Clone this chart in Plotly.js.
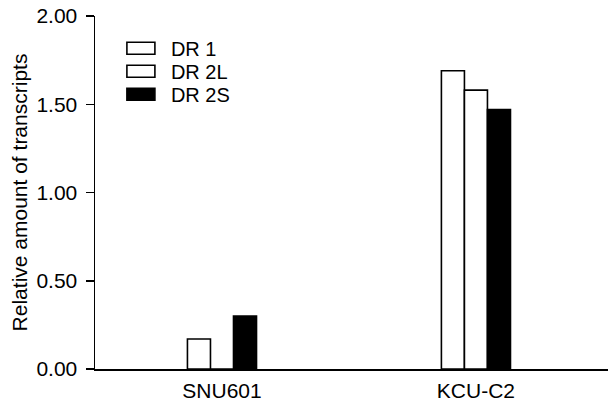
<!DOCTYPE html>
<html>
<head>
<meta charset="utf-8">
<script src="https://cdn.plot.ly/plotly-3.0.1.min.js"></script>
<style>html,body{margin:0;padding:0;background:#fff;}</style>
</head>
<body>
<div id="chart" style="width:609px;height:403px;"></div>
<script>
const categories = ["SNU601", "KCU-C2"];
const seriesNames = ["DR 1", "DR 2L", "DR 2S"];
const dr1 = [0.17, 1.69];
const dr2L = [0.00, 1.58];
const dr2S = [0.30, 1.47];
const yTicks = [0, 0.5, 1.0, 1.5, 2.0];

const FONT = "Liberation Sans, Arial, sans-serif";
const fills = ["#ffffff", "#ffffff", "#000000"];
const values = [dr1, dr2L, dr2S];

const traces = values.map((v, i) => ({
  type: "bar",
  name: seriesNames[i],
  x: categories,
  y: v,
  marker: { color: fills[i], line: { color: "#000", width: 1.6 } }
}));

const layout = {
  width: 609, height: 403,
  margin: { l: 95, r: 1, t: 16, b: 34 },
  paper_bgcolor: "#fff", plot_bgcolor: "#fff",
  font: { family: FONT, size: 21, color: "#000" },
  barmode: "group",
  bargap: 0.728,
  bargroupgap: 0,
  showlegend: true,
  legend: {
    x: 0.031, y: 0.964, xanchor: "left", yanchor: "top",
    itemwidth: 50,
    bgcolor: "rgba(0,0,0,0)", font: { family: FONT, size: 20, color: "#000" },
    tracegroupgap: 0, itemclick: false
  },
  xaxis: {
    type: "category", range: [-0.5, 1.52],
    showline: true, linecolor: "#000", linewidth: 1.5,
    ticks: "", showgrid: false, zeroline: false,
    ticklabelstandoff: 2,
    tickfont: { family: FONT, size: 21, color: "#000" }
  },
  xaxis2: {
    overlaying: "x", anchor: "y", type: "linear", range: [-0.5, 1.52],
    tickvals: [-0.5, 0.5], ticks: "outside", ticklen: 6, tickwidth: 1.5, tickcolor: "#000",
    showticklabels: false, showline: false, showgrid: false, zeroline: false
  },
  yaxis: {
    range: [0, 2], tickvals: yTicks, tickformat: ".2f",
    ticks: "outside", ticklen: 8, tickwidth: 1.5, tickcolor: "#000",
    showline: true, linecolor: "#000", linewidth: 1.5,
    showgrid: false, zeroline: false,
    ticklabelstandoff: 4,
    tickfont: { family: FONT, size: 21, color: "#000" },
    title: { text: "Relative amount of transcripts", font: { family: FONT, size: 21, color: "#000" }, standoff: 3 }
  }
};

Plotly.newPlot("chart", traces, layout, { staticPlot: true, displayModeBar: false }).then(() => {
  const groups = Array.from(document.querySelectorAll(".legend .traces"));
  let x0 = 0, y0 = 0;
  groups.forEach((t, i) => {
    t.querySelectorAll(".legendpoints path").forEach(p => p.setAttribute("d", "M14,6H-14V-6H14Z"));
    const m = /translate\(\s*([-\d.]+)[ ,]+([-\d.]+)\s*\)/.exec(t.getAttribute("transform") || "");
    if (m) {
      if (i === 0) { x0 = parseFloat(m[1]); y0 = parseFloat(m[2]); }
      t.setAttribute("transform", "translate(" + x0 + "," + (y0 + i * 23) + ")");
    }
  });
});
</script>
</body>
</html>
